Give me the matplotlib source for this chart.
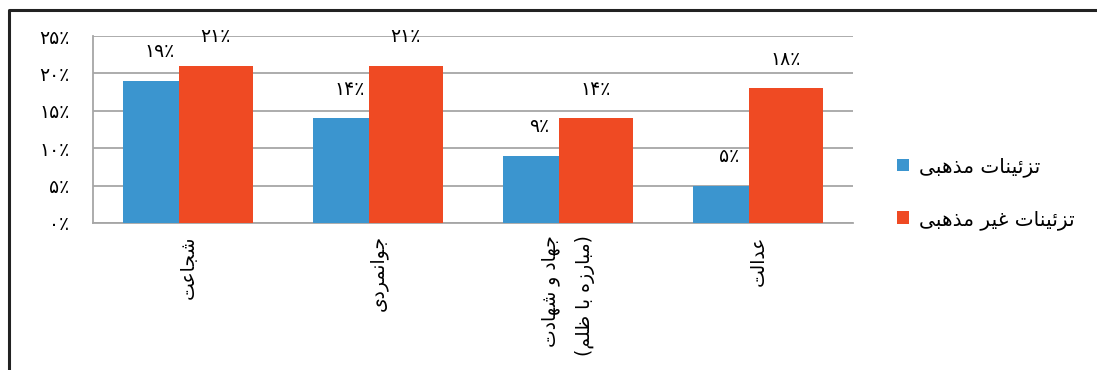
import matplotlib
matplotlib.use("Agg")
import matplotlib.pyplot as plt
from matplotlib.lines import Line2D

# data
categories = ["شجاعت", "جوانمردی", "جهاد و شهادت\n(مبارزه با ظلم)", "عدالت"]
religious = [19, 14, 9, 5]
non_religious = [21, 21, 14, 18]
series_names = ["تزئینات مذهبی", "تزئینات غیر مذهبی"]
yticks = [0, 5, 10, 15, 20, 25]

blue = "#3B95CF"
red = "#EF4A23"
grid_col = "#A6A6A6"

plt.rcParams["font.family"] = ["DejaVu Sans"]

# very small arabic shaper: (isolated, final, initial, medial)
FORMS = {
    "ا": ("\uFE8D", "\uFE8E"), "د": ("\uFEA9", "\uFEAA"), "ذ": ("\uFEAB", "\uFEAC"),
    "ر": ("\uFEAD", "\uFEAE"), "ز": ("\uFEAF", "\uFEB0"), "و": ("\uFEED", "\uFEEE"),
    "ب": ("\uFE8F", "\uFE90", "\uFE91", "\uFE92"), "ت": ("\uFE95", "\uFE96", "\uFE97", "\uFE98"),
    "ج": ("\uFE9D", "\uFE9E", "\uFE9F", "\uFEA0"), "ش": ("\uFEB5", "\uFEB6", "\uFEB7", "\uFEB8"),
    "ظ": ("\uFEC5", "\uFEC6", "\uFEC7", "\uFEC8"), "ع": ("\uFEC9", "\uFECA", "\uFECB", "\uFECC"),
    "غ": ("\uFECD", "\uFECE", "\uFECF", "\uFED0"), "ل": ("\uFEDD", "\uFEDE", "\uFEDF", "\uFEE0"),
    "م": ("\uFEE1", "\uFEE2", "\uFEE3", "\uFEE4"), "ن": ("\uFEE5", "\uFEE6", "\uFEE7", "\uFEE8"),
    "ه": ("\uFEE9", "\uFEEA", "\uFEEB", "\uFEEC"), "ئ": ("\uFE89", "\uFE8A", "\uFE8B", "\uFE8C"),
    "ی": ("\uFBFC", "\uFBFD", "\uFBFE", "\uFBFF"),
}
MIRROR = {"(": ")", ")": "("}


def fa(text):
    lines = []
    for s in text.split("\n"):
        out = []
        for i, c in enumerate(s):
            if c not in FORMS:
                out.append(c)
                continue
            prev = s[i - 1] if i > 0 else ""
            nxt = s[i + 1] if i + 1 < len(s) else ""
            jp = prev in FORMS and len(FORMS[prev]) == 4
            jn = nxt in FORMS and len(FORMS[c]) == 4
            f = FORMS[c]
            if jp and jn:
                out.append(f[3])
            elif jp:
                out.append(f[1])
            elif jn:
                out.append(f[2])
            else:
                out.append(f[0])
        lines.append("".join(MIRROR.get(c, c) for c in reversed(out)))
    return "\n".join(lines)


def pct(v):
    return str(v).translate(str.maketrans("0123456789", "۰۱۲۳۴۵۶۷۸۹")) + "٪"


fig = plt.figure(figsize=(10.97, 3.70), dpi=100)
ax = fig.add_axes([0.0848, 0.3973, 0.6928, 0.5054])

x = range(len(categories))
b1 = ax.bar([i - 0.34 for i in x], religious, width=0.29, align="edge", color=blue, zorder=3)
b2 = ax.bar([i - 0.05 for i in x], non_religious, width=0.39, align="edge", color=red, zorder=3)

for bars, vals, dx in [(b1, religious, 6), (b2, non_religious, 0)]:
    for r, v in zip(bars, vals):
        ax.annotate(pct(v), (r.get_x() + r.get_width() / 2, v), xytext=(dx, 14),
                    textcoords="offset points", ha="center", va="bottom", fontsize=13.5)

ax.set_xlim(-0.5, len(categories) - 0.5)
ax.set_ylim(0, 25)
ax.set_yticks(yticks)
ax.set_yticklabels([pct(v) for v in yticks], fontsize=13.5)
ax.set_xticks(list(x))
ax.set_xticklabels([fa(c) for c in categories], rotation=90, ha="center", va="top",
                   multialignment="right", linespacing=2.0, fontsize=13.5)
ax.tick_params(axis="both", length=0)
ax.tick_params(axis="y", pad=17)
ax.tick_params(axis="x", pad=9)
ax.yaxis.grid(True, color=grid_col, linewidth=1.3, zorder=0)
for s in ["top", "right"]:
    ax.spines[s].set_visible(False)
for s in ["left", "bottom"]:
    ax.spines[s].set_color(grid_col)
    ax.spines[s].set_linewidth(1.3)

fig.legend([b1, b2], [fa(n) for n in series_names], loc="upper left",
           bbox_to_anchor=(897 / 1097, 1 - 157 / 370), frameon=False, fontsize=14.5,
           handlelength=0.6, handleheight=0.6, handletextpad=0.5, labelspacing=1.65,
           borderpad=0, borderaxespad=0)

# outer frame, only top and left edges are inside the picture
fy = 1 - 9.5 / 370
fx = 9 / 1097
fig.add_artist(Line2D([fx, fx, 1.05], [-0.01, fy, fy], transform=fig.transFigure,
                      color="#222222", linewidth=2.2))

fig.savefig("out.png", dpi=100)
